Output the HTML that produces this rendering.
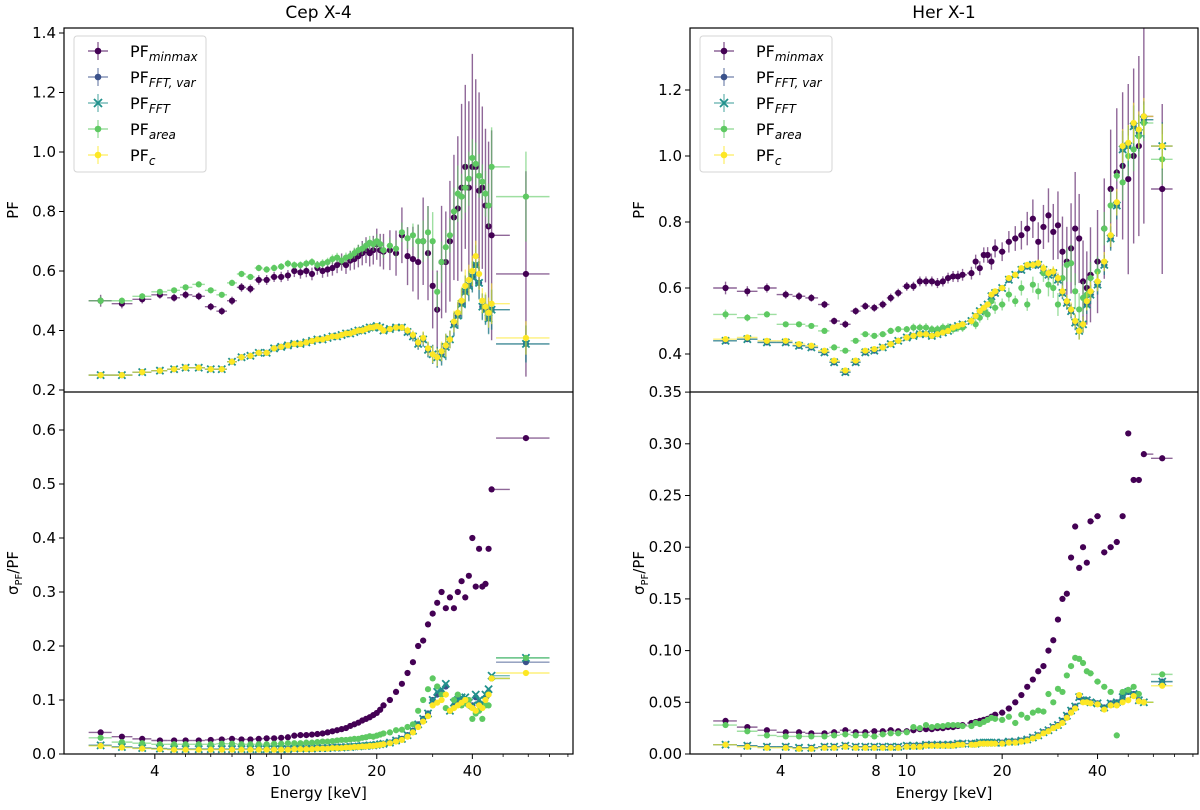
<!DOCTYPE html>
<html><head><meta charset="utf-8"><style>
html,body{margin:0;padding:0;background:#fff}
svg{display:block;font-family:"DejaVu Sans","Liberation Sans",sans-serif}
</style></head><body>
<svg id="fig" width="1200" height="810" viewBox="0 0 1200 810" xmlns="http://www.w3.org/2000/svg"></svg>
<script>
// ---------- data: Cep X-4 ----------
const cepE = [2.7,3.15,3.65,4.15,4.6,5.0,5.5,6.0,6.5,7.0,7.5,8,8.5,9,9.5,10,10.5,11,11.5,12,12.5,13,13.5,14,14.5,15,15.5,16,16.5,17,17.5,18,18.5,19,19.5,20,20.5,21,22,23,24,25,26,27,28,29,30,31,32,33,34,35,36,37,38,39,40,41,42,43,44,45,46,59];
const cepLastBin = [47.5,70];
const cepMinmax = [0.50,0.49,0.505,0.52,0.51,0.52,0.515,0.48,0.465,0.50,0.545,0.54,0.57,0.57,0.58,0.58,0.585,0.60,0.595,0.60,0.59,0.61,0.60,0.605,0.61,0.62,0.63,0.62,0.635,0.64,0.65,0.66,0.67,0.66,0.67,
 0.69,0.67,0.665,0.67,0.66,0.72,0.65,0.64,0.63,0.70,0.66,0.55,0.47,0.63,0.63,0.70,0.78,0.81,0.88,0.95,0.88,0.95,0.95,0.87,0.88,0.82,0.75,0.72,0.59];
const cepArea = [0.50,0.50,0.515,0.53,0.535,0.545,0.555,0.535,0.52,0.56,0.59,0.58,0.61,0.605,0.61,0.615,0.625,0.62,0.62,0.625,0.63,0.62,0.625,0.63,0.64,0.645,0.635,0.645,0.65,0.66,0.67,0.675,0.685,0.695,0.69,
 0.70,0.69,0.67,0.685,0.675,0.73,0.71,0.72,0.70,0.70,0.73,0.70,0.53,0.63,0.68,0.72,0.80,0.86,0.85,0.88,0.91,0.98,0.96,0.92,0.90,0.86,0.82,0.95,0.85];
const cepC = [0.25,0.25,0.26,0.265,0.27,0.275,0.275,0.27,0.27,0.295,0.31,0.315,0.325,0.325,0.34,0.345,0.35,0.355,0.355,0.36,0.365,0.37,0.37,0.375,0.38,0.38,0.385,0.39,0.39,0.395,0.40,0.40,0.405,0.41,0.41,
 0.415,0.41,0.40,0.405,0.41,0.41,0.40,0.385,0.36,0.375,0.34,0.32,0.31,0.33,0.35,0.37,0.43,0.46,0.50,0.55,0.57,0.60,0.65,0.59,0.50,0.48,0.46,0.49,0.375];
const cepFFT = [0.25,0.25,0.26,0.265,0.27,0.275,0.275,0.27,0.27,0.295,0.31,0.315,0.325,0.325,0.34,0.345,0.35,0.355,0.355,0.36,0.365,0.37,0.37,0.375,0.38,0.38,0.385,0.39,0.39,0.395,0.40,0.40,0.405,0.41,0.41,
 0.415,0.41,0.40,0.405,0.41,0.41,0.395,0.38,0.355,0.37,0.335,0.32,0.31,0.32,0.345,0.37,0.42,0.45,0.49,0.53,0.55,0.58,0.62,0.56,0.48,0.47,0.44,0.47,0.355];
const cepFFTvar = cepFFT;
const cepRelMinmax = [0.040,0.032,0.028,0.025,0.025,0.025,0.025,0.026,0.027,0.028,0.027,0.027,0.028,0.029,0.029,0.030,0.031,0.034,0.035,0.035,0.036,0.037,0.038,0.040,0.042,0.044,0.046,0.048,0.052,0.055,0.058,0.062,0.065,0.068,0.072,0.076,0.082,0.090,0.100,0.115,0.130,0.150,0.170,0.200,0.210,0.240,0.260,0.280,0.300,0.270,0.290,0.270,0.300,0.320,0.290,0.330,0.400,0.310,0.380,0.310,0.315,0.380,0.490,0.585];
const cepRelArea = [0.030,0.022,0.020,0.018,0.018,0.018,0.018,0.018,0.019,0.019,0.018,0.018,0.018,0.018,0.019,0.019,0.020,0.020,0.020,0.021,0.021,0.022,0.023,0.023,0.024,0.025,0.026,0.026,0.027,0.028,0.028,0.030,0.031,0.033,0.032,0.034,0.036,0.038,0.040,0.044,0.045,0.050,0.055,0.080,0.100,0.120,0.140,0.125,0.110,0.085,0.080,0.100,0.110,0.090,0.095,0.100,0.065,0.075,0.080,0.065,0.090,0.090,0.140,0.178];
const cepRelC = [0.015,0.012,0.010,0.009,0.008,0.008,0.008,0.008,0.008,0.008,0.008,0.008,0.008,0.008,0.008,0.008,0.008,0.009,0.009,0.009,0.009,0.010,0.010,0.010,0.011,0.011,0.011,0.012,0.012,0.013,0.013,0.014,0.014,0.015,0.015,0.016,0.017,0.018,0.020,0.023,0.026,0.032,0.040,0.050,0.060,0.070,0.090,0.095,0.100,0.110,0.080,0.085,0.090,0.095,0.100,0.090,0.085,0.080,0.090,0.085,0.100,0.110,0.140,0.150];
const cepRelFFT = [0.016,0.013,0.011,0.010,0.009,0.009,0.009,0.009,0.009,0.009,0.009,0.009,0.009,0.009,0.009,0.009,0.009,0.010,0.010,0.010,0.010,0.011,0.011,0.011,0.012,0.012,0.012,0.013,0.013,0.014,0.014,0.015,0.015,0.016,0.016,0.017,0.018,0.019,0.021,0.025,0.028,0.035,0.043,0.055,0.065,0.075,0.100,0.115,0.120,0.130,0.080,0.095,0.100,0.105,0.105,0.095,0.090,0.110,0.100,0.095,0.110,0.120,0.145,0.178];
const cepRelFFTvar = [0.016,0.013,0.011,0.010,0.009,0.009,0.009,0.009,0.009,0.009,0.009,0.009,0.009,0.009,0.009,0.009,0.009,0.010,0.010,0.010,0.010,0.011,0.011,0.011,0.012,0.012,0.012,0.013,0.013,0.014,0.014,0.015,0.015,0.016,0.016,0.017,0.018,0.019,0.021,0.025,0.028,0.035,0.043,0.055,0.065,0.075,0.100,0.110,0.115,0.125,0.080,0.090,0.100,0.100,0.100,0.090,0.090,0.105,0.095,0.090,0.105,0.115,0.140,0.170];

// ---------- data: Her X-1 ----------
const herE = [2.68,3.14,3.62,4.15,4.57,5.0,5.5,5.9,6.4,6.9,7.4,7.9,8.4,8.9,9.4,10,10.5,11,11.5,12,12.5,13,13.5,14,14.5,15,16,16.5,17,17.5,18,18.5,19,20,21,22,23,24,25,26,27,28,29,30,31,32,33,34,35,36,37,38,40,42,44,46,48,50,52,54,56,64];
const herLastBin = [59,69];
const herMinmax = [0.60,0.59,0.60,0.58,0.575,0.57,0.55,0.50,0.49,0.53,0.545,0.54,0.55,0.57,0.585,0.605,0.605,0.62,0.62,0.62,0.615,0.62,0.63,0.635,0.635,0.64,0.645,0.68,0.66,0.70,0.70,0.68,0.72,0.71,0.74,0.75,0.76,0.78,0.81,0.74,0.785,0.82,0.77,0.79,0.71,0.68,0.72,0.78,0.75,0.62,0.60,0.64,0.68,0.78,0.90,0.95,0.97,0.93,1.0,1.03,1.12,0.90];
const herArea = [0.52,0.51,0.52,0.49,0.49,0.485,0.47,0.42,0.41,0.44,0.46,0.455,0.46,0.47,0.475,0.475,0.48,0.48,0.48,0.475,0.475,0.48,0.48,0.475,0.48,0.48,0.50,0.49,0.51,0.53,0.52,0.56,0.54,0.55,0.58,0.56,0.60,0.55,0.61,0.59,0.645,0.61,0.60,0.55,0.63,0.67,0.675,0.59,0.535,0.57,0.58,0.63,0.65,0.78,0.85,0.94,0.92,1.0,1.02,1.06,1.10,0.99];
const herC = [0.445,0.45,0.44,0.44,0.43,0.425,0.41,0.38,0.35,0.38,0.41,0.415,0.42,0.43,0.44,0.45,0.455,0.46,0.46,0.455,0.46,0.465,0.47,0.48,0.485,0.49,0.50,0.515,0.53,0.54,0.55,0.58,0.59,0.60,0.63,0.64,0.66,0.67,0.67,0.675,0.66,0.645,0.65,0.63,0.59,0.56,0.535,0.50,0.47,0.49,0.56,0.59,0.62,0.68,0.76,0.86,1.03,1.04,1.10,1.08,1.12,1.03];
const herFFT = [0.44,0.445,0.435,0.435,0.425,0.42,0.405,0.375,0.345,0.375,0.405,0.41,0.42,0.43,0.44,0.45,0.455,0.46,0.46,0.455,0.46,0.465,0.47,0.48,0.485,0.49,0.50,0.515,0.53,0.54,0.55,0.575,0.585,0.60,0.625,0.64,0.655,0.665,0.67,0.67,0.655,0.64,0.645,0.625,0.585,0.555,0.53,0.495,0.47,0.49,0.55,0.58,0.61,0.67,0.75,0.85,1.02,1.03,1.09,1.07,1.11,1.03];
const herFFTvar = herFFT;
const herRelMinmax = [0.032,0.026,0.023,0.021,0.021,0.020,0.020,0.021,0.023,0.021,0.021,0.022,0.022,0.023,0.022,0.022,0.023,0.024,0.024,0.024,0.025,0.025,0.026,0.026,0.027,0.028,0.030,0.031,0.032,0.033,0.034,0.036,0.038,0.040,0.044,0.050,0.057,0.065,0.072,0.080,0.085,0.100,0.110,0.130,0.150,0.155,0.190,0.220,0.180,0.200,0.185,0.225,0.230,0.195,0.200,0.205,0.230,0.310,0.265,0.265,0.290,0.286];
const herRelArea = [0.028,0.022,0.018,0.017,0.017,0.017,0.017,0.018,0.019,0.018,0.018,0.017,0.019,0.020,0.020,0.021,0.026,0.025,0.028,0.026,0.027,0.027,0.028,0.028,0.028,0.027,0.027,0.030,0.029,0.031,0.033,0.035,0.034,0.033,0.036,0.030,0.038,0.035,0.040,0.042,0.041,0.058,0.050,0.063,0.060,0.076,0.085,0.093,0.092,0.088,0.080,0.078,0.070,0.065,0.060,0.018,0.060,0.062,0.065,0.058,0.050,0.077];
const herRelC = [0.009,0.007,0.006,0.006,0.005,0.005,0.006,0.006,0.007,0.006,0.006,0.006,0.006,0.006,0.006,0.007,0.007,0.007,0.008,0.008,0.008,0.008,0.008,0.008,0.009,0.009,0.009,0.009,0.010,0.010,0.010,0.010,0.010,0.010,0.011,0.011,0.012,0.013,0.015,0.017,0.020,0.022,0.025,0.027,0.030,0.035,0.040,0.044,0.057,0.050,0.050,0.049,0.048,0.043,0.047,0.047,0.050,0.052,0.056,0.051,0.050,0.066];
const herRelFFT = [0.009,0.008,0.007,0.007,0.006,0.006,0.007,0.007,0.008,0.007,0.007,0.007,0.007,0.007,0.007,0.008,0.008,0.008,0.009,0.009,0.009,0.009,0.009,0.009,0.010,0.010,0.010,0.010,0.011,0.011,0.011,0.011,0.011,0.011,0.012,0.012,0.013,0.014,0.016,0.018,0.021,0.023,0.026,0.028,0.032,0.037,0.042,0.046,0.055,0.052,0.052,0.050,0.049,0.045,0.049,0.050,0.055,0.060,0.058,0.052,0.050,0.070];
const herRelFFTvar = herRelFFT;

// ---------- ticks ----------
const xTickMajor = [4,8,10,20,40];
const xTickMinor = [3,5,6,7,9,30,50,60,70,80];
const cepTopTicks = [0.2,0.4,0.6,0.8,1.0,1.2,1.4];
const cepBotTicks = [0.0,0.1,0.2,0.3,0.4,0.5,0.6];
const herTopTicks = [0.4,0.6,0.8,1.0,1.2];
const herBotTicks = [0.00,0.05,0.10,0.15,0.20,0.25,0.30,0.35];
const cepTopTickLabels = ["0.2","0.4","0.6","0.8","1.0","1.2","1.4"];
const cepBotTickLabels = ["0.0","0.1","0.2","0.3","0.4","0.5","0.6"];
const herTopTickLabels = ["0.4","0.6","0.8","1.0","1.2"];
const herBotTickLabels = ["0.00","0.05","0.10","0.15","0.20","0.25","0.30","0.35"];

const COL = {minmax:'#440154', fftvar:'#3b528b', fft:'#21918c', area:'#5ec962', c:'#fde725'};
const NS = 'http://www.w3.org/2000/svg';
const svg = document.getElementById('fig');
function mk(tag, attrs, parent){ const e=document.createElementNS(NS,tag); for(const k in attrs) e.setAttribute(k,attrs[k]); (parent||svg).appendChild(e); return e; }

const EMIN=2.07, EMAX=83;
function xScale(x0,x1){ return E => x0 + (Math.log10(E)-Math.log10(EMIN))/(Math.log10(EMAX)-Math.log10(EMIN))*(x1-x0); }
function yScale(v0,y0,v1,y1){ return v => y0 + (v-v0)/(v1-v0)*(y1-y0); }

function binEdges(E,last){ const lo=[],hi=[]; for(let i=0;i<E.length;i++){ if(i===E.length-1){lo.push(last[0]);hi.push(last[1]);continue;} const prev = i>0?(E[i-1]+E[i])/2 : E[i]-(E[i+1]-E[i])/2; const next=(E[i]+E[i+1])/2; lo.push(prev); hi.push(next);} return [lo,hi]; }

function drawAxes(id, x0,x1,y0,y1, sx, sy, yt, ytl, showX){
  const g = mk('g',{});
  
  
  mk('clipPath',{id:'clip-'+id}, g).appendChild(Object.assign(document.createElementNS(NS,'rect'),{}));
  const cr = g.querySelector('clipPath rect'); cr.setAttribute('x',x0); cr.setAttribute('y',y0); cr.setAttribute('width',x1-x0); cr.setAttribute('height',y1-y0);
  // y ticks
  const yg = mk('g',{}, g);
  
  
  yt.forEach((v,i)=>{ const y=sy(v); mk('line',{x1:x0-5,x2:x0,y1:y,y2:y,stroke:'#000','stroke-width':1}, yg);
    const t=mk('text',{x:x0-8,y:y+5,'text-anchor':'end','font-size':15,fill:'#000'}, yg); t.textContent=ytl[i]; });
  if(showX){
    const xg = mk('g',{}, g);
    
    
    xTickMajor.forEach(E=>{ const x=sx(E); mk('line',{x1:x,x2:x,y1:y1,y2:y1+5,stroke:'#000','stroke-width':1}, xg);
      const t=mk('text',{x:x,y:y1+22,'text-anchor':'middle','font-size':15,fill:'#000'}, xg); t.textContent=String(E); });
    xTickMinor.forEach(E=>{ const x=sx(E); if(x<x1) mk('line',{x1:x,x2:x,y1:y1,y2:y1+3,stroke:'#000','stroke-width':0.8}, xg); });
  }
  return g;
}

function drawSeries(id, name, E, lo, hi, vals, errs, color, marker, sx, sy){
  const g = mk('g',{'clip-path':'url(#clip-'+id+')'});
  
  
  E.forEach((e,i)=>{
    const x=sx(e), y=sy(vals[i]);
    mk('line',{x1:sx(lo[i]),x2:sx(hi[i]),y1:y,y2:y,stroke:color,'stroke-width':1.4,'stroke-opacity':0.6}, g);
    if(errs){ const er=errs[i]; mk('line',{x1:x,x2:x,y1:sy(vals[i]-er),y2:sy(vals[i]+er),stroke:color,'stroke-width':1.4,'stroke-opacity':0.6}, g); }
    if(marker==='x'){
      const s=3.6;
      mk('path',{d:`M${x-s},${y-s}L${x+s},${y+s}M${x-s},${y+s}L${x+s},${y-s}`,stroke:color,'stroke-width':1.8,fill:'none'}, g);
    } else {
      const c=mk('circle',{cx:x,cy:y,r:3.1,fill:color}, g);
      
      
    }
  });
}

function legend(x,y,id){
  const g=mk('g',{});
  
  
  mk('rect',{x:x,y:y,width:132,height:136,rx:3,fill:'#fff','fill-opacity':0.8,stroke:'#d5d5d5','stroke-width':1}, g);
  const items=[['minmax',COL.minmax,'o'],['FFT, var',COL.fftvar,'o'],['FFT',COL.fft,'x'],['area',COL.area,'o'],['c',COL.c,'o']];
  items.forEach((it,i)=>{
    const yy=y+15+i*26, mx=x+24;
    const e=mk('g',{}, g);
    
    
    mk('line',{x1:mx-10,x2:mx+10,y1:yy,y2:yy,stroke:it[1],'stroke-width':1.4,'stroke-opacity':0.6},e);
    mk('line',{x1:mx,x2:mx,y1:yy-9,y2:yy+9,stroke:it[1],'stroke-width':1.4,'stroke-opacity':0.6},e);
    if(it[2]==='x'){ const s=4; mk('path',{d:`M${mx-s},${yy-s}L${mx+s},${yy+s}M${mx-s},${yy+s}L${mx+s},${yy-s}`,stroke:it[1],'stroke-width':1.8},e); }
    else mk('circle',{cx:mx,cy:yy,r:3.3,fill:it[1]},e);
    const t=mk('text',{x:x+56,y:yy+6,'font-size':16,fill:'#000'},e);
    t.innerHTML='PF<tspan font-size="12" font-style="italic" dy="4">'+it[0]+'</tspan>';
  });
}

function panel(id, x0,x1, E,last, data, topS, botS, topT, topTL, botT, botTL, title, ylx){
  const sx=xScale(x0,x1);
  const [lo,hi]=binEdges(E,last);
  const yTop=28, yMid=392, yBot=754;
  const syT=yScale(topS[0],topS[1],topS[2],topS[3]);
  const syB=yScale(botS[0],botS[1],botS[2],botS[3]);
  drawAxes(id+'-top',x0,x1,yTop,yMid,sx,syT,topT,topTL,false);
  drawAxes(id+'-bottom',x0,x1,yMid,yBot,sx,syB,botT,botTL,true);
  const order=[['minmax','o'],['fftvar','o'],['fft','x'],['area','o'],['c','o']];
  order.forEach(([k,m])=>{
    const v=data[k], r=data['rel'+k];
    const err=v.map((p,i)=>p*r[i]);
    drawSeries(id+'-top',k,E,lo,hi,v,err,COL[k],m,sx,syT);
  });
  order.forEach(([k,m])=>{
    drawSeries(id+'-bottom','rel-'+k,E,lo,hi,data['rel'+k],null,COL[k],m,sx,syB);
  });
  mk('rect',{x:x0,y:yTop,width:x1-x0,height:yBot-yTop,fill:'none',stroke:'#000','stroke-width':1.2});
  mk('line',{x1:x0,x2:x1,y1:yMid,y2:yMid,stroke:'#000','stroke-width':1.2});
  const t=mk('text',{x:(x0+x1)/2,y:18,'text-anchor':'middle','font-size':17,fill:'#000'}); t.textContent=title;
   
  const xl=mk('text',{x:(x0+x1)/2,y:798,'text-anchor':'middle','font-size':15,fill:'#000'}); xl.textContent='Energy [keV]';
   
  const yl=mk('text',{x:ylx,y:210,'text-anchor':'middle','font-size':15,fill:'#000',transform:`rotate(-90 ${ylx} 210)`}); yl.textContent='PF';
   
  const yl2=mk('text',{x:ylx,y:573,'text-anchor':'middle','font-size':15,fill:'#000',transform:`rotate(-90 ${ylx} 573)`});
  yl2.innerHTML='σ<tspan font-size="10" dy="4">PF</tspan><tspan dy="-4">/PF</tspan>';
   
  legend(x0+10,36,id);
}

panel('cep',64,573,cepE,cepLastBin,
  {minmax:cepMinmax,fftvar:cepFFTvar,fft:cepFFT,area:cepArea,c:cepC,
   relminmax:cepRelMinmax,relfftvar:cepRelFFTvar,relfft:cepRelFFT,relarea:cepRelArea,relc:cepRelC},
  [1.0,152,1.2,92.5],[0,754,0.1,700],cepTopTicks,cepTopTickLabels,cepBotTicks,cepBotTickLabels,'Cep X-4',18);
panel('her',690,1198,herE,herLastBin,
  {minmax:herMinmax,fftvar:herFFTvar,fft:herFFT,area:herArea,c:herC,
   relminmax:herRelMinmax,relfftvar:herRelFFTvar,relfft:herRelFFT,relarea:herRelArea,relc:herRelC},
  [1.0,156,1.2,90],[0,754,0.05,702.3],herTopTicks,herTopTickLabels,herBotTicks,herBotTickLabels,'Her X-1',644);
</script>
</body></html>
